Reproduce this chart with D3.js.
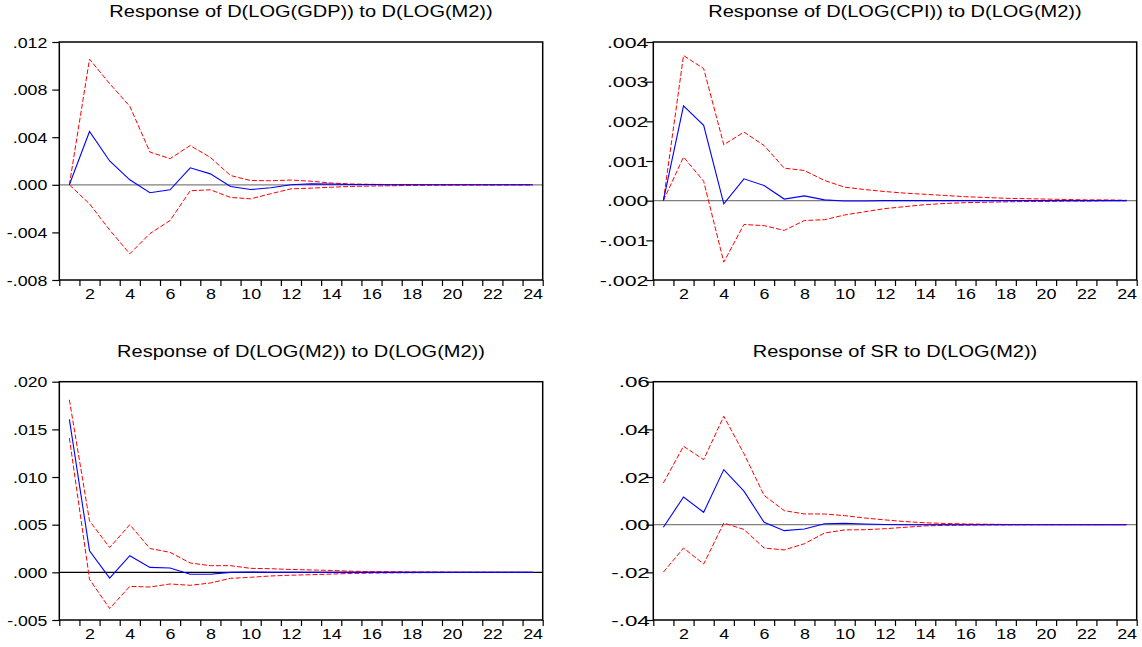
<!DOCTYPE html>
<html>
<head>
<meta charset="utf-8">
<script src="https://cdn.jsdelivr.net/npm/d3@7"></script>
<style>
  html, body { margin: 0; padding: 0; background: #ffffff; }
  svg { display: block; font-family: "Liberation Sans", Arial, sans-serif; }
</style>
</head>
<body>
<svg id="chart" width="1142" height="647"></svg>
<script>
// Impulse responses to a D(LOG(M2)) shock, 24 periods, with +/- 2 S.E. bands
const periods = d3.range(1, 25);
const xTickLabels = [2, 4, 6, 8, 10, 12, 14, 16, 18, 20, 22, 24];

const titles = [
  "Response of D(LOG(GDP)) to D(LOG(M2))",
  "Response of D(LOG(CPI)) to D(LOG(M2))",
  "Response of D(LOG(M2)) to D(LOG(M2))",
  "Response of SR to D(LOG(M2))"
];

const gdpResp  = [0, .00448, .0020, .00042, -.00067, -.00042, .00143, .00092, -.00014, -.0004, -.00025, 0, .00008, .00006, .00003, .00002, .00001, 0, 0, 0, 0, 0, 0, 0];
const gdpUpper = [0, .01056, .0085, .0066, .00275, .0022, .0033, .0023, .00078, .00036, .00034, .0004, .0003, .00015, .00007, .00004, .00002, .00001, .00001, 0, 0, 0, 0, 0];
const gdpLower = [0, -.0016, -.0038, -.0058, -.0041, -.0030, -.0005, -.00042, -.00106, -.00118, -.00075, -.00034, -.00028, -.0002, -.00014, -.0001, -.00008, -.00005, -.00003, -.00002, -.00001, -.00001, 0, 0];

const cpiResp  = [0, .00239, .0019, -.00008, .00055, .00038, .00004, .00012, .00002, -.00001, -.00001, 0, 0, 0, 0, 0, 0, 0, 0, 0, 0, 0, 0, 0];
const cpiUpper = [0, .00366, .00333, .00141, .00173, .00139, .00082, .00076, .00051, .00034, .00028, .00023, .00019, .00016, .00013, .0001, .00008, .00006, .00005, .00004, .00003, .00002, .00002, .00001];
const cpiLower = [0, .0011, .00049, -.00155, -.0006, -.00063, -.00075, -.0005, -.00048, -.00036, -.00028, -.0002, -.00015, -.0001, -.00007, -.00005, -.00004, -.00003, -.00002, -.00002, -.00001, -.00001, 0, 0];

const m2Resp  = [.01605, .00227, -.0006, .00175, .00052, .00045, -.0002, -.0002, 0, .00003, 0, 0, 0, 0, 0, 0, 0, 0, 0, 0, 0, 0, 0, 0];
const m2Upper = [.0181, .0054, .0026, .0050, .0025, .0021, .00098, .0007, .0007, .00042, .00038, .0003, .00025, .0002, .00012, .00008, .00006, .00004, .00003, .00002, .00001, .00001, .00001, 0];
const m2Lower = [.0141, -.00073, -.0038, -.00147, -.00154, -.00122, -.00136, -.00112, -.00063, -.00052, -.00038, -.0003, -.00025, -.00018, -.00012, -.00008, -.00006, -.00004, -.00003, -.00002, -.00001, -.00001, -.00001, 0];

const srResp  = [-.0011, .0116, .0052, .0231, .0141, .0010, -.0025, -.0018, .0004, .0006, .0003, .0001, 0, 0, 0, 0, 0, 0, 0, 0, 0, 0, 0, 0];
const srUpper = [.0175, .0329, .0273, .0455, .0298, .0123, .0059, .0045, .0045, .0038, .0028, .0020, .0013, .0008, .0005, .0003, .0002, .0001, .0001, .00005, .00003, .00002, .00001, 0];
const srLower = [-.0199, -.0098, -.0165, .0007, -.0020, -.0098, -.0106, -.0080, -.0035, -.0022, -.0021, -.0017, -.0011, -.0005, -.0003, -.0002, -.0001, -.0001, -.00005, -.00003, -.00002, -.00001, 0, 0];

const yTicksGdp = [-.008, -.004, 0, .004, .008, .012];
const yTicksCpi = [-.002, -.001, 0, .001, .002, .003, .004];
const yTicksM2  = [-.005, 0, .005, .010, .015, .020];
const yTicksSr  = [-.04, -.02, 0, .02, .04, .06];

// Panel geometry and styling
const panels = [
  { title: titles[0], resp: gdpResp, upper: gdpUpper, lower: gdpLower, ticks: yTicksGdp, fmt: ".3f",
    box: { left: 59.3, top: 42, right: 542.7, bottom: 280 }, labOff: 12, labScale: 1.27, zero: "#7f7f7f" },
  { title: titles[1], resp: cpiResp, upper: cpiUpper, lower: cpiLower, ticks: yTicksCpi, fmt: ".3f",
    box: { left: 653.3, top: 42, right: 1136.7, bottom: 280 }, labOff: 5, labScale: 1.52, zero: "#7f7f7f" },
  { title: titles[2], resp: m2Resp, upper: m2Upper, lower: m2Lower, ticks: yTicksM2, fmt: ".3f",
    box: { left: 59.3, top: 381.7, right: 542.7, bottom: 620 }, labOff: 12, labScale: 1.26, zero: "#000000" },
  { title: titles[3], resp: srResp, upper: srUpper, lower: srLower, ticks: yTicksSr, fmt: ".2f",
    box: { left: 653.3, top: 381.7, right: 1136.7, bottom: 620 }, labOff: 3.5, labScale: 1.6, zero: "#7f7f7f" }
];

const svg = d3.select("#chart");

// ".012" / "-.004" style labels with a plain hyphen
function stripZero(fmt) {
  const f = d3.format(fmt);
  return v => f(v).replace("\u2212", "-").replace(/^(-?)0\./, "$1.");
}

panels.forEach(p => {
  const b = p.box;
  const g = svg.append("g");

  const x = d3.scaleLinear().domain([0.5, 24.5]).range([b.left, b.right]);
  const y = d3.scaleLinear().domain(d3.extent(p.ticks)).range([b.bottom, b.top]);

  // zero reference line
  g.append("line")
    .attr("x1", b.left).attr("x2", b.right)
    .attr("y1", y(0)).attr("y2", y(0))
    .attr("stroke", p.zero).attr("stroke-width", 1.3);

  const line = d3.line().x((d, i) => x(periods[i])).y(d => y(d));

  // confidence bands
  [p.upper, p.lower].forEach(s => {
    g.append("path").datum(s)
      .attr("d", line)
      .attr("fill", "none")
      .attr("stroke", "#ff0000")
      .attr("stroke-width", 1)
      .attr("stroke-dasharray", "5,2");
  });

  // response
  g.append("path").datum(p.resp)
    .attr("d", line)
    .attr("fill", "none")
    .attr("stroke", "#0000ff")
    .attr("stroke-width", 1.1);

  // frame
  g.append("rect")
    .attr("x", b.left).attr("y", b.top)
    .attr("width", b.right - b.left).attr("height", b.bottom - b.top)
    .attr("fill", "none").attr("stroke", "#000").attr("stroke-width", 1.5);

  // y axis
  const yAxis = g.append("g")
    .attr("transform", `translate(${b.left},0)`)
    .call(d3.axisLeft(y).tickValues(p.ticks).tickSize(7).tickFormat(stripZero(p.fmt)));
  yAxis.select(".domain").remove();
  yAxis.selectAll("line").attr("stroke", "#000").attr("stroke-width", 1.2);
  yAxis.selectAll("text")
    .attr("x", null).attr("dy", null)
    .attr("text-anchor", "end")
    .attr("transform", `translate(${-p.labOff},5) scale(${p.labScale},1)`)
    .attr("font-size", 14).attr("fill", "#000")
    .attr("font-family", "Liberation Sans, Arial, sans-serif");

  // x axis ticks at period boundaries
  const xTickAxis = g.append("g")
    .attr("transform", `translate(0,${b.bottom})`)
    .call(d3.axisBottom(x).tickValues(d3.range(0.5, 25, 1)).tickSize(6).tickFormat(""));
  xTickAxis.select(".domain").remove();
  xTickAxis.selectAll("line").attr("stroke", "#000").attr("stroke-width", 1.2);

  // x axis labels at period centres
  const xLabAxis = g.append("g")
    .attr("transform", `translate(0,${b.bottom})`)
    .call(d3.axisBottom(x).tickValues(xTickLabels).tickSize(0));
  xLabAxis.select(".domain").remove();
  xLabAxis.selectAll("text")
    .attr("y", null).attr("dy", null)
    .attr("transform", "translate(0,19) scale(1.28,1)")
    .attr("font-size", 14).attr("fill", "#000")
    .attr("font-family", "Liberation Sans, Arial, sans-serif");

  // title
  svg.append("text")
    .attr("transform", `translate(${(b.left + b.right) / 2},${b.top - 25}) scale(1.25,1)`)
    .attr("text-anchor", "middle")
    .attr("font-size", 16)
    .attr("fill", "#000")
    .text(p.title);
});
</script>
</body>
</html>
